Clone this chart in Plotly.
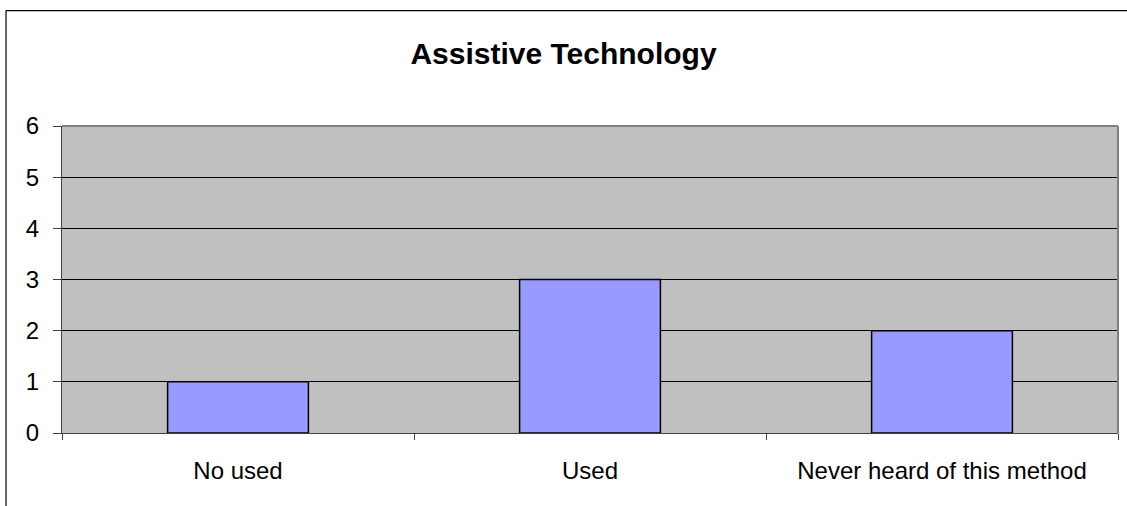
import plotly.graph_objects as go

categories = ["No used", "Used", "Never heard of this method"]
values = [1, 3, 2]
y_ticks = [0, 1, 2, 3, 4, 5, 6]

fig = go.Figure()
fig.add_trace(go.Bar(
    x=categories, y=values, width=0.4,
    marker=dict(color="#9999FF", line=dict(color="#000000", width=1.5)),
))

fig.update_layout(
    width=1127, height=506,
    margin=dict(l=62, r=9, t=126, b=73),
    paper_bgcolor="white", plot_bgcolor="#C0C0C0",
    showlegend=False,
    font=dict(family="Arial, Liberation Sans, sans-serif", size=24, color="#000000"),
    title=dict(text="<b>Assistive Technology</b>", x=0.5, xanchor="center",
               y=1 - 53 / 506, yanchor="middle", font=dict(size=30)),
    bargap=0.6,
)
fig.update_xaxes(
    showgrid=False, showline=True, linecolor="#404040", linewidth=1,
    ticks="outside", tickson="boundaries", ticklen=6, tickcolor="#404040",
    ticklabelstandoff=16,
)
fig.update_yaxes(
    range=[0, 6], tickvals=y_ticks, showgrid=True, gridcolor="#000000", gridwidth=1,
    showline=True, linecolor="#404040", linewidth=1, zeroline=False,
    ticks="outside", ticklen=8, tickcolor="#404040", ticklabelstandoff=9,
)
# plot area top/right border
fig.add_shape(type="line", xref="paper", yref="paper", x0=0, x1=1, y0=1, y1=1,
              line=dict(color="#808080", width=2))
fig.add_shape(type="line", xref="paper", yref="paper", x0=1, x1=1, y0=0, y1=1,
              line=dict(color="#808080", width=2))
# outer chart border (top and left)
fig.add_shape(type="line", xref="paper", yref="paper", x0=-0.053, x1=1.02, y0=1.376, y1=1.376,
              line=dict(color="#000000", width=1.2))
fig.add_shape(type="line", xref="paper", yref="paper", x0=-0.053, x1=-0.053, y0=1.376, y1=-0.3,
              line=dict(color="#000000", width=1.2))

fig.write_html("out.html", config={"displayModeBar": False},
               post_script="document.body.style.margin='0px';")
